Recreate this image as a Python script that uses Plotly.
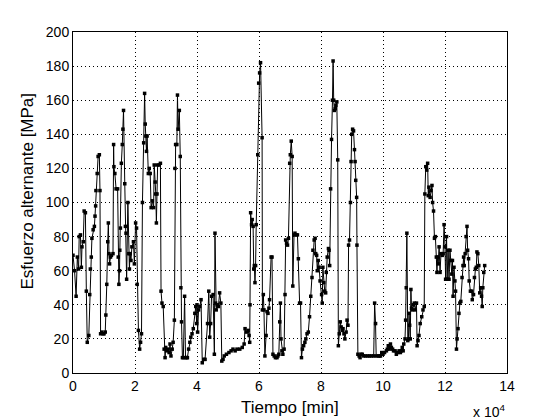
import plotly.graph_objects as go

# tiempo en unidades de 10^4 min
tiempo = [
    0.00, 0.05, 0.10, 0.14, 0.18, 0.20, 0.24, 0.27, 0.29, 0.33,
    0.36, 0.40, 0.43, 0.46, 0.51, 0.54, 0.56, 0.59, 0.61, 0.65,
    0.69, 0.71, 0.73, 0.74, 0.78, 0.81, 0.85, 0.87, 0.89, 0.93,
    0.97, 1.00, 1.04, 1.06, 1.09, 1.12, 1.14, 1.16, 1.18, 1.21,
    1.24, 1.29, 1.31, 1.32, 1.35, 1.39, 1.44, 1.46, 1.48, 1.50,
    1.51, 1.53, 1.56, 1.59, 1.61, 1.63, 1.67, 1.69, 1.71, 1.73,
    1.77, 1.80, 1.82, 1.84, 1.87, 1.90, 1.95, 1.98, 2.02, 2.05,
    2.07, 2.11, 2.15, 2.18, 2.21, 2.24, 2.28, 2.31, 2.33, 2.35,
    2.37, 2.39, 2.43, 2.46, 2.49, 2.52, 2.56, 2.60, 2.62, 2.65,
    2.67, 2.69, 2.71, 2.73, 2.78, 2.82, 2.84, 2.87, 2.91, 2.94,
    2.97, 2.99, 3.02, 3.05, 3.10, 3.13, 3.16, 3.20, 3.23, 3.27,
    3.29, 3.31, 3.35, 3.37, 3.39, 3.43, 3.46, 3.48, 3.50, 3.53,
    3.56, 3.60, 3.63, 3.67, 3.69, 3.73, 3.77, 3.80, 3.84, 3.88,
    3.93, 3.96, 3.99,
    4.00, 4.02, 4.05, 4.09, 4.13, 4.17, 4.22, 4.26, 4.34, 4.38,
    4.41, 4.44, 4.47, 4.52, 4.56, 4.58, 4.60, 4.62, 4.65, 4.69,
    4.73, 4.77, 4.80, 4.84, 4.88, 4.95, 5.03, 5.10, 5.16, 5.23,
    5.29, 5.38, 5.46, 5.52, 5.55, 5.59, 5.65, 5.68, 5.70, 5.71,
    5.73, 5.76, 5.78, 5.81, 5.83, 5.85, 5.87, 5.89, 5.91, 5.96,
    5.99, 6.02, 6.05, 6.10, 6.11, 6.14, 6.16, 6.19, 6.23, 6.26,
    6.29, 6.32, 6.34, 6.39, 6.42, 6.45, 6.49, 6.53, 6.58, 6.61,
    6.64, 6.67, 6.69, 6.71, 6.74, 6.77, 6.81, 6.84, 6.86, 6.89,
    6.92, 6.95, 6.99, 7.01, 7.04, 7.07, 7.09, 7.13, 7.16, 7.20,
    7.24, 7.27, 7.31, 7.34, 7.37, 7.40, 7.44, 7.48, 7.51, 7.55,
    7.59, 7.63, 7.67, 7.71, 7.74, 7.78, 7.81, 7.83, 7.86, 7.88,
    7.91, 7.94, 7.97,
    8.02, 8.04, 8.06, 8.09, 8.12, 8.15, 8.17, 8.20, 8.24, 8.26,
    8.28, 8.31, 8.34, 8.37, 8.39, 8.41, 8.43, 8.46, 8.48, 8.51,
    8.54, 8.56, 8.59, 8.62, 8.65, 8.68, 8.71, 8.74, 8.77, 8.81,
    8.84, 8.87, 8.89, 8.92, 8.95, 8.97, 8.99, 9.02, 9.05, 9.08,
    9.10, 9.12, 9.15, 9.16, 9.19, 9.23, 9.26, 9.29, 9.33, 9.38,
    9.44, 9.51, 9.57, 9.63, 9.70, 9.73, 9.76, 9.78, 9.85, 9.89,
    9.92, 9.96, 10.00, 10.05, 10.11, 10.14, 10.17, 10.20, 10.24, 10.27,
    10.31, 10.34, 10.39, 10.43, 10.47, 10.52, 10.56, 10.59, 10.62, 10.65,
    10.67, 10.71, 10.73, 10.75, 10.77, 10.80, 10.82, 10.84, 10.86, 10.88,
    10.90, 10.92, 10.95, 10.98, 11.01, 11.04, 11.08, 11.10, 11.13, 11.16,
    11.20, 11.25, 11.29, 11.33, 11.35, 11.38, 11.41, 11.44, 11.46, 11.48,
    11.52, 11.55, 11.58, 11.60, 11.63, 11.66, 11.69, 11.72, 11.74, 11.76,
    11.78, 11.81, 11.84, 11.87, 11.91, 11.94, 11.97, 12.00, 12.02, 12.05,
    12.07, 12.10, 12.13, 12.16, 12.19, 12.22, 12.24, 12.26, 12.29, 12.32,
    12.34, 12.37, 12.39, 12.42, 12.45, 12.48, 12.51, 12.55, 12.58, 12.60,
    12.62, 12.65, 12.68, 12.71, 12.73, 12.76, 12.78, 12.82, 12.86, 12.88,
    12.92, 12.95, 12.98, 13.01, 13.03, 13.06, 13.09, 13.12, 13.15, 13.18,
    13.20, 13.22, 13.25, 13.28,
]

esfuerzo = [
    69, 60, 45, 68, 61, 80, 81, 62, 74, 77,
    95, 94, 48, 18, 22, 46, 61, 68, 79, 84,
    86, 92, 98, 107, 117, 127, 128, 107, 23, 24,
    23, 23, 24, 34, 52, 77, 88, 70, 64, 68,
    69, 70, 134, 121, 117, 108, 108, 68, 52, 60,
    72, 85, 123, 134, 143, 154, 111, 86, 82, 55,
    100, 70, 61, 70, 66, 74, 77, 64, 88, 85,
    52, 25, 14, 18, 23, 100, 135, 164, 146, 139,
    130, 139, 117, 120, 117, 97, 101, 97, 122, 112,
    105, 88, 105, 122, 122, 123, 48, 41, 39, 14,
    9, 15, 13, 14, 12, 17, 10, 14, 18, 31,
    120, 134, 134, 163, 143, 154, 127, 50, 30, 9,
    9, 45, 9, 9, 9, 14, 18, 21, 23, 26,
    35, 39, 29,
    40, 24, 37, 39, 43, 6, 8, 8, 29, 48,
    21, 29, 45, 46, 11, 82, 41, 37, 40, 39,
    47, 41, 7, 8, 10, 11, 12, 13, 14, 13,
    14, 14, 15, 17, 26, 24, 25, 22, 18, 40,
    94, 87, 90, 86, 61, 63, 53, 63, 87, 128,
    170, 176, 182, 138, 37, 46, 37, 10, 22, 36,
    35, 38, 43, 68, 68, 11, 10, 9, 9, 10,
    11, 30, 41, 20, 13, 11, 14, 46, 78, 76,
    75, 79, 123, 128, 136, 127, 51, 81, 82, 81,
    81, 67, 41, 41, 9, 14, 16, 18, 20, 23,
    24, 33, 45, 56, 72, 78, 79, 70, 69, 60,
    66, 62, 54,
    46, 41, 62, 53, 48, 47, 59, 68, 73, 72,
    63, 108, 137, 160, 183, 160, 154, 155, 157, 159,
    125, 16, 23, 30, 27, 25, 26, 23, 20, 24,
    31, 28, 75, 78, 100, 124, 140, 143, 142, 131,
    124, 113, 103, 75, 11, 10, 9, 11, 11, 10,
    10, 10, 10, 10, 10, 41, 29, 10, 10, 10,
    10, 12, 11, 12, 13, 14, 16, 14, 17, 15,
    14, 13, 13, 11, 12, 13, 12, 13, 15, 13,
    17, 20, 31, 50, 82, 19, 20, 35, 28, 20,
    49, 38, 37, 40, 41, 37, 41, 16, 19, 22,
    29, 33, 37, 39, 105, 121, 119, 123, 104, 109,
    103, 107, 110, 100, 95, 79, 80, 68, 59, 68,
    64, 74, 59, 70, 69, 70, 87, 74, 55, 80,
    55, 72, 55, 72, 66, 58, 66, 45, 62, 54,
    48, 14, 20, 26, 35, 41, 42, 56, 63, 68,
    63, 70, 80, 86, 72, 67, 54, 48, 48, 43,
    46, 56, 61, 62, 71, 70, 63, 47, 50, 45,
    39, 50, 59, 63,
]

x_ticks = [0, 2, 4, 6, 8, 10, 12, 14]
y_ticks = [0, 20, 40, 60, 80, 100, 120, 140, 160, 180, 200]

fuente = "Liberation Sans"

fig = go.Figure()
fig.add_trace(
    go.Scatter(
        x=tiempo,
        y=esfuerzo,
        mode="lines+markers",
        line=dict(color="black", width=1),
        marker=dict(color="black", size=3.5, symbol="square"),
        showlegend=False,
    )
)

ejes = dict(
    showline=True,
    linecolor="black",
    linewidth=1,
    mirror=True,
    ticks="",
    showgrid=True,
    gridcolor="black",
    gridwidth=1,
    griddash="1px,3px",
    zeroline=False,
    automargin=False,
    tickfont=dict(family=fuente, size=14, color="black"),
)

# la pagina deja 8 px de margen, por eso la figura es 552x412
fig.update_layout(
    width=552,
    height=412,
    margin=dict(l=65, r=53, t=24, b=47),
    paper_bgcolor="white",
    plot_bgcolor="white",
    font=dict(family=fuente, color="black"),
    xaxis=dict(range=[0, 14], tickvals=x_ticks, **ejes),
    yaxis=dict(range=[0, 200], tickvals=y_ticks, **ejes),
    annotations=[
        # titulo eje x
        dict(
            text="Tiempo [min]",
            xref="paper", yref="paper",
            x=0.5, y=0,
            xanchor="center", yanchor="middle",
            yshift=-34,
            showarrow=False,
            font=dict(family=fuente, size=17, color="black"),
        ),
        # titulo eje y
        dict(
            text="Esfuerzo alternante [MPa]",
            xref="paper", yref="paper",
            x=0, y=0.5,
            xanchor="center", yanchor="middle",
            xshift=-46, yshift=11,
            textangle=-90,
            showarrow=False,
            font=dict(family=fuente, size=17, color="black"),
        ),
        # factor de escala
        dict(
            text="x 10<sup>4</sup>",
            xref="paper", yref="paper",
            x=1.0, y=0,
            xanchor="right", yanchor="middle",
            yshift=-38,
            showarrow=False,
            font=dict(family=fuente, size=14, color="black"),
        ),
    ],
)

fig.write_html("out.html")
